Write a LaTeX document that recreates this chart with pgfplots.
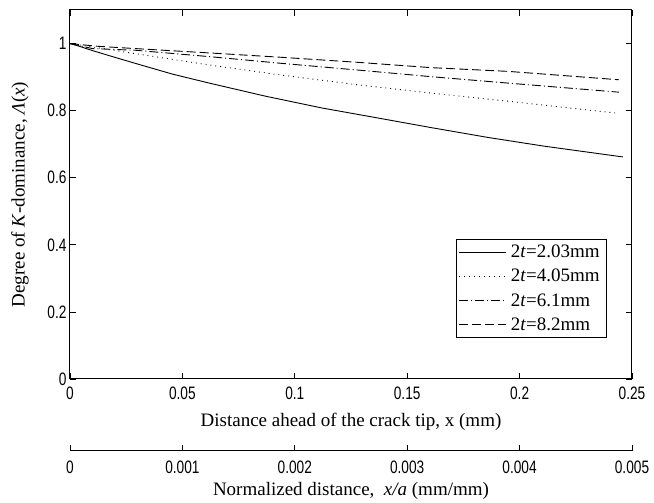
\documentclass[border=0pt]{standalone}
\usepackage{fontspec}
\setmainfont{Liberation Serif}
\newfontfamily\tickfont[FakeStretch=0.76]{Liberation Sans}
\usepackage{pgfplots}
\pgfplotsset{compat=1.18}
\pgfplotstableread{
x y
0 1.0
0.005 0.99
0.010 0.979
0.0174 0.964
0.029 0.941
0.0455 0.909
0.062 0.882
0.087 0.843
0.112 0.808
0.137 0.778
0.161 0.749
0.186 0.720
0.211 0.694
0.2459 0.662
}\tA
\pgfplotstableread{
x y
0 1.0
0.010 0.99
0.029 0.970
0.062 0.936
0.094 0.906
0.128 0.877
0.161 0.852
0.195 0.828
0.2425 0.793
}\tB
\pgfplotstableread{
x y
0 1.0
0.010 0.985
0.029 0.980
0.062 0.961
0.094 0.941
0.128 0.921
0.161 0.901
0.195 0.882
0.2442 0.855
}\tC
\pgfplotstableread{
x y
0 1.0
0.012 0.992
0.029 0.985
0.062 0.972
0.094 0.959
0.128 0.944
0.161 0.928
0.195 0.917
0.2442 0.892
}\tD
\begin{document}
\begin{tikzpicture}
\useasboundingbox (-70pt,-124pt) rectangle (584pt,379pt);
\begin{axis}[
  scale only axis, width=562pt, height=369pt,
  xmin=0, xmax=0.25, ymin=0, ymax=1.1,
  scaled ticks=false,
  xtick={0,0.05,0.1,0.15,0.2,0.25},
  xticklabels={0,0.05,0.1,0.15,0.2,0.25},
  ytick={0,0.2,0.4,0.6,0.8,1},
  yticklabels={0,0.2,0.4,0.6,0.8,1},
  tick align=inside, major tick length=6pt,
  tick style={black, line width=0.8pt},
  axis line style={line width=1pt},
  ticklabel style={font=\tickfont\fontsize{18}{18}\selectfont},
  xticklabel style={yshift=-4pt},
  /pgf/number format/assume math mode=true,
  xlabel={Distance ahead of the crack tip, x (mm)},
  ylabel={Degree of \textit{K}-dominance, \textit{Λ}(\textit{x})},
  label style={font=\fontsize{19}{21}\selectfont},
  xlabel style={at={(axis description cs:0.5,0)}, anchor=center, yshift=-43pt},
  ylabel style={at={(axis description cs:-0.089,0.5)}, anchor=center, rotate=0},
  legend style={at={(axis description cs:0.9555,0.111)}, anchor=south east,
    font=\fontsize{19}{20}\selectfont, draw=black, line width=0.8pt,
    inner xsep=3pt, inner ysep=5pt, row sep=8pt,
    nodes={inner xsep=4pt, inner ysep=1pt}},
  legend cell align=left,
  legend image code/.code={\draw[#1] (0pt,0pt) -- (47pt,0pt);},
]
\addplot[black, line width=0.9pt] table {\tA};
\addlegendentry{2\textit{t}=2.03mm}
\addplot[black, line width=0.9pt, dash pattern=on 0.9pt off 4pt] table {\tB};
\addlegendentry{2\textit{t}=4.05mm}
\addplot[black, line width=0.9pt, dash pattern=on 9pt off 3pt on 1pt off 3pt] table {\tC};
\addlegendentry{2\textit{t}=6.1mm}
\addplot[black, line width=0.9pt, dash pattern=on 9pt off 4pt] table {\tD};
\addlegendentry{2\textit{t}=8.2mm}
\end{axis}
\begin{axis}[
  at={(0pt,-72pt)},
  scale only axis, width=562pt, height=10pt,
  xmin=0, xmax=0.005, ymin=0, ymax=1,
  scaled ticks=false,
  axis x line=bottom, axis y line=none,
  axis line style={-, line width=1pt},
  xtick={0,0.001,0.002,0.003,0.004,0.005},
  xticklabels={0,0.001,0.002,0.003,0.004,0.005},
  tick align=inside, major tick length=6pt,
  tick style={black, line width=0.8pt},
  ticklabel style={font=\tickfont\fontsize{18}{18}\selectfont},
  xticklabel style={yshift=-6pt},
  xlabel={Normalized distance,\ \ \textit{x/a} (mm/mm)},
  xlabel style={font=\fontsize{19}{21}\selectfont, at={(axis description cs:0.5,0)}, anchor=center, yshift=-40pt},
]
\addplot[draw=none] coordinates {(0,0)};
\end{axis}
\end{tikzpicture}
\end{document}
